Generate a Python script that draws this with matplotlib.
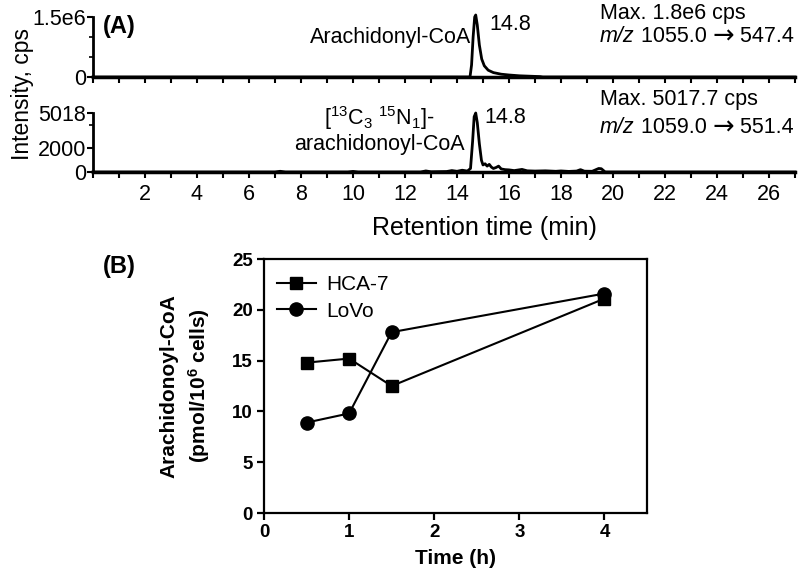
import numpy as np
import matplotlib
matplotlib.use("Agg")
from matplotlib import pyplot as plt
from matplotlib.ticker import MultipleLocator, FixedLocator

plt.rcParams['font.family'] = ['Liberation Sans', 'DejaVu Sans']
plt.rcParams['mathtext.fontset'] = 'custom'
plt.rcParams['mathtext.rm'] = 'Liberation Sans'
plt.rcParams['mathtext.it'] = 'Liberation Sans:italic'
plt.rcParams['mathtext.bf'] = 'Liberation Sans:bold'

# chromatogram, arachidonyl-CoA
t_top = [0, 14.50, 14.56, 14.62, 14.68, 14.72, 14.78, 14.86, 14.95, 15.05, 15.20,
         15.40, 15.70, 16.00, 16.40, 16.80, 17.20, 17.30, 27]
i_top = [0, 0, 0.3e6, 1.0e6, 1.50e6, 1.55e6, 1.30e6, 0.80e6, 0.45e6, 0.28e6, 0.17e6,
         0.11e6, 0.07e6, 0.05e6, 0.03e6, 0.02e6, 0.01e6, 0, 0]

# chromatogram, [13C3 15N1]-arachidonoyl-CoA
t_bot = [0, 7.0, 7.2, 7.4, 9.8, 10.0, 10.2, 12.6, 12.8, 13.0, 13.6, 13.8, 14.0, 14.2,
         14.4, 14.52, 14.60, 14.66, 14.72, 14.78, 14.86, 14.94, 15.00, 15.08, 15.16,
         15.24, 15.32, 15.40, 15.50, 15.60, 15.70, 15.85, 16.0, 16.2, 16.5, 16.7,
         17.0, 17.4, 17.8, 18.0, 18.3, 18.6, 18.75, 18.9, 19.2, 19.45, 19.55, 19.7,
         27]
i_bot = [0, 0, 60, 0, 0, 50, 0, 0, 90, 20, 40, 120, 60, 150, 80, 300, 2600, 4700,
         5018, 4200, 2400, 1000, 600, 700, 500, 650, 420, 300, 380, 500, 260, 200,
         180, 120, 220, 100, 80, 100, 60, 90, 50, 80, 200, 70, 60, 300, 280, 0, 0]

# panel B
time_h = [0.5, 1, 1.5, 4]
hca7 = [14.8, 15.2, 12.5, 21.1]
lovo = [8.9, 9.8, 17.8, 21.6]

W, H = 800, 580
fig = plt.figure(figsize=(8, 5.8), dpi=100)


def box(l, t, r, b):
    return [l / W, 1 - b / H, (r - l) / W, (b - t) / H]


def ftext(x, y, s, **kw):
    fig.text(x / W, 1 - y / H, s, **kw)


def mz_text(ax, x, y, q1, q3, size):
    # italic m/z, precursor, arrow, product - chained so they line up
    t1 = ax.text(x, y, 'm/z', style='italic', ha='left', va='center', fontsize=size)
    t2 = ax.annotate(' %s ' % q1, xy=(1, 0.5), xycoords=t1, ha='left', va='center',
                     fontsize=size)
    t3 = ax.annotate('→', xy=(1, 0.5), xycoords=t2, ha='left', va='center',
                     fontsize=size + 3, family='DejaVu Sans')
    ax.annotate(' %s' % q3, xy=(1, 0.5), xycoords=t3, ha='left', va='center',
                fontsize=size)


fs = 15.5
tfs = 15.5
ax1 = fig.add_axes(box(93, 17, 795, 77))
ax2 = fig.add_axes(box(93, 113, 795, 172))

for ax in (ax1, ax2):
    ax.set_xlim(0, 27)
    for s in ('top', 'right'):
        ax.spines[s].set_visible(False)
    ax.spines['left'].set_linewidth(2)
    ax.spines['bottom'].set_linewidth(2.5)
    ax.xaxis.set_major_locator(MultipleLocator(1))
    ax.tick_params(axis='x', direction='out', length=4, width=1.5, labelsize=tfs, pad=5)
    ax.tick_params(axis='y', direction='out', length=4, width=1.5, labelsize=tfs, pad=1)
    ax.tick_params(which='minor', direction='out', length=3, width=1.2)

ax1.plot(t_top, i_top, color='black', lw=2, clip_on=False)
ax1.set_ylim(0, 1.5e6)
ax1.set_yticks([0, 1.5e6])
ax1.set_yticklabels(['0', '1.5e6'])
ax1.yaxis.set_minor_locator(FixedLocator([0.5e6, 1.0e6]))
ax1.set_xticklabels([])

ax2.plot(t_bot, i_bot, color='black', lw=2, clip_on=False)
ax2.plot([14.5, 15.2], [0, 0], color='black', lw=0.8)
ax2.set_ylim(0, 5018)
ax2.set_yticks([0, 2000, 5018])
ax2.set_yticklabels(['0', '2000', '5018'])
ax2.yaxis.set_minor_locator(FixedLocator([4000]))
ax2.set_xticklabels(['' if int(v) % 2 or v == 0 else str(int(v)) for v in ax2.get_xticks()])

ax1.text(14.55, 1.0e6, 'Arachidonyl-CoA', ha='right', va='center', fontsize=fs)
ax1.text(15.25, 1.3e6, '14.8', ha='left', va='center', fontsize=fs)
ax1.text(19.5, 1.6e6, 'Max. 1.8e6 cps', ha='left', va='center', fontsize=fs)
mz_text(ax1, 19.5, 1.0e6, '1055.0', '547.4', fs)

ax2.text(11.0, 4600, r'[$^{13}$C$_3$ $^{15}$N$_1$]-', ha='center', va='center', fontsize=fs)
ax2.text(11.0, 2300, 'arachidonoyl-CoA', ha='center', va='center', fontsize=fs)
ax2.text(15.05, 4600, '14.8', ha='left', va='center', fontsize=fs)
ax2.text(19.5, 6150, 'Max. 5017.7 cps', ha='left', va='center', fontsize=fs)
mz_text(ax2, 19.5, 3750, '1059.0', '551.4', fs)

ftext(103, 26, '(A)', fontsize=17, fontweight='bold', va='center')
ftext(22, 94, 'Intensity, cps', fontsize=16.5, rotation=90, ha='center', va='center')
ftext(484, 228, 'Retention time (min)', fontsize=18, ha='center', va='center')

# panel B
axB = fig.add_axes(box(264, 259, 647, 513))
axB.plot(time_h, hca7, color='black', lw=1.5, marker='s', markersize=8.5, label='HCA-7')
axB.plot(time_h, lovo, color='black', lw=1.5, marker='o', markersize=9.5, label='LoVo')
axB.set_xlim(0, 4.5)
axB.set_ylim(0, 25)
axB.set_xticks([0, 1, 2, 3, 4])
axB.set_yticks([0, 5, 10, 15, 20, 25])
for s in axB.spines.values():
    s.set_linewidth(1.6)
axB.tick_params(direction='out', length=5, width=1.6, labelsize=13.5, pad=3)
for lab in axB.get_xticklabels() + axB.get_yticklabels():
    lab.set_fontweight('bold')
axB.set_xlabel('Time (h)', fontsize=15, fontweight='bold', labelpad=6)
axB.set_ylabel('Arachidonoyl-CoA\n' + r'(pmol/10$^{\mathbf{6}}$ cells)',
               fontsize=15, fontweight='bold', linespacing=1.35, va='center')
axB.yaxis.set_label_coords(-0.204, 0.5)
axB.legend(loc='upper left', frameon=False, fontsize=15, handlelength=1.9,
           handletextpad=0.5, labelspacing=0.35, borderaxespad=0.2,
           bbox_to_anchor=(0.0, 0.985))

ftext(103, 267, '(B)', fontsize=17, fontweight='bold', va='center')

fig.savefig('out.png', dpi=100)
